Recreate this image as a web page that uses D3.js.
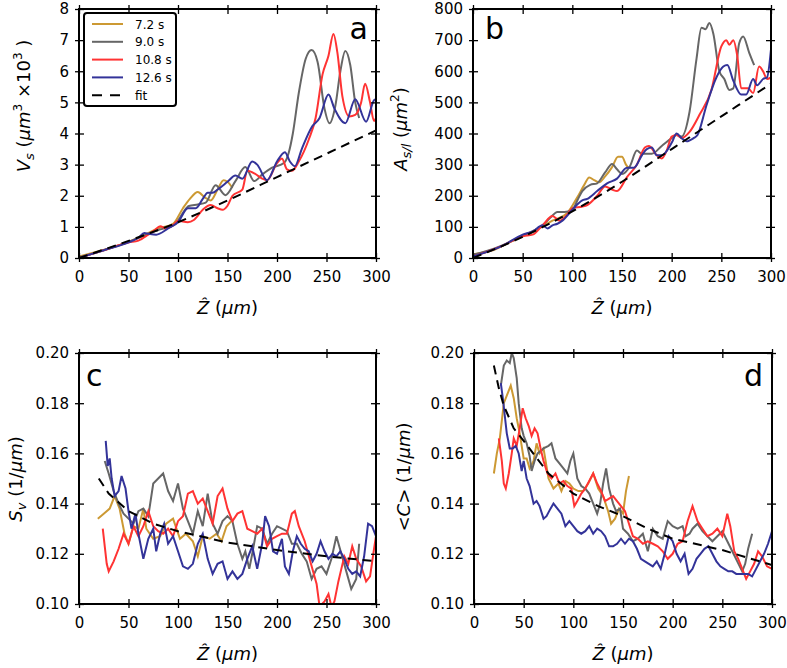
<!DOCTYPE html>
<html>
<head>
<meta charset="utf-8">
<script src="https://d3js.org/d3.v7.min.js"></script>
<style>
  body { margin: 0; background: #fff; }
  text { font-family: "DejaVu Sans", sans-serif; }
</style>
</head>
<body>
<svg id="fig" width="787" height="668"></svg>
<script>
// series styling + ticks
const seriesNames = ["7.2 s", "9.0 s", "10.8 s", "12.6 s", "fit"];
const seriesColors = ["#cc9933", "#666666", "#ff3333", "#333399", "#000000"];
const zTicks = [0, 50, 100, 150, 200, 250, 300];
const vTicks = [0, 1, 2, 3, 4, 5, 6, 7, 8];
const aTicks = [0, 100, 200, 300, 400, 500, 600, 700, 800];
const sTicks = [0.10, 0.12, 0.14, 0.16, 0.18, 0.20];

// panel a : V_s (x10^3 um^3) vs Z
const vs72 = [[0,0.05],[20,0.22],[40,0.4],[60,0.65],[80,0.95],[95,1.1],[105,1.6],[112,1.9],[120,2.12],[127,1.95],[133,1.85],[140,2.2],[146,2.5],[150,2.45],[155,2.25]];
const vs90 = [[0,0.02],[25,0.25],[50,0.52],[80,0.9],[95,1.05],[100,1.2],[105,1.45],[111,1.67],[120,1.72],[128,1.78],[138,2.34],[148,2.02],[158,2.47],[168,2.92],[177,2.47],[185,2.68],[195,2.9],[207,3.05],[212,3.4],[216,4.0],[222,5.3],[229,6.4],[235,6.68],[241,6.3],[248,4.8],[253,4.33],[259,4.9],[264,6.0],[269,6.65],[274,6.2],[279,5.0],[283,4.5]];
const vs108 = [[0,0.0],[25,0.25],[50,0.5],[60,0.56],[70,0.75],[76,0.88],[82,1.02],[88,0.95],[95,1.05],[100,1.2],[110,1.15],[116,1.22],[125,1.55],[133,1.7],[140,1.6],[145,1.55],[150,1.68],[155,2.0],[165,2.2],[170,2.8],[178,2.7],[185,2.55],[190,2.5],[200,3.05],[205,3.2],[210,2.85],[215,2.8],[222,3.1],[232,3.8],[239,4.5],[246,5.9],[252,6.5],[257,7.2],[261,6.6],[266,5.2],[273,4.55],[279,4.6],[285,5.0],[289,5.6],[294,5.0],[298,4.4],[300,4.5]];
const vs126 = [[0,0.0],[25,0.25],[50,0.5],[60,0.65],[66,0.8],[70,0.78],[78,0.75],[90,0.95],[100,1.15],[110,1.6],[118,1.6],[125,1.9],[130,2.1],[135,2.1],[140,2.2],[150,2.45],[158,2.65],[165,2.55],[175,3.1],[180,3.0],[190,2.5],[200,3.1],[208,3.4],[213,3.1],[218,2.95],[225,3.5],[235,4.2],[243,4.5],[252,5.25],[258,4.8],[269,4.33],[279,5.1],[290,4.38],[298,5.07],[300,5.1]];
const vsFit = [[0,0],[50,0.55],[100,1.15],[150,1.85],[200,2.6],[250,3.35],[300,4.1]];

// panel b : A_s/l (um^2) vs Z
const as72 = [[0,12],[20,25],[40,55],[60,85],[80,120],[95,145],[105,195],[112,235],[117,259],[122,250],[127,243],[133,262],[140,292],[146,325],[150,325],[154,300],[157,288]];
const as90 = [[0,10],[25,35],[50,72],[70,105],[78,130],[85,148],[92,148],[100,155],[105,185],[110,215],[118,235],[125,240],[133,275],[140,302],[145,285],[150,270],[158,295],[165,345],[170,335],[180,335],[190,360],[200,385],[205,395],[210,390],[218,470],[225,640],[230,740],[234,735],[238,755],[242,720],[248,600],[253,575],[258,540],[262,545],[268,690],[272,712],[278,660],[283,620]];
const as108 = [[0,5],[30,40],[50,70],[60,75],[70,105],[80,135],[87,120],[95,140],[100,160],[110,165],[115,170],[125,200],[133,230],[140,220],[145,215],[155,260],[165,300],[173,355],[177,360],[185,330],[190,320],[195,345],[200,390],[205,395],[210,385],[218,405],[228,460],[240,540],[250,680],[255,700],[258,685],[262,700],[266,650],[270,545],[277,545],[282,530],[288,615],[292,600],[296,575],[300,580]];
const as126 = [[0,5],[30,40],[50,75],[60,85],[70,105],[75,95],[80,105],[85,110],[90,120],[100,155],[110,185],[115,190],[125,215],[135,240],[145,255],[155,290],[162,290],[170,330],[175,350],[180,355],[185,330],[190,330],[200,370],[205,400],[210,385],[215,375],[222,385],[226,395],[235,490],[245,580],[252,615],[256,620],[262,570],[270,525],[275,525],[282,575],[286,555],[292,575],[296,580],[300,670]];
const asFit = [[0,0],[50,68],[100,150],[150,245],[200,350],[250,455],[300,560]];

// panel c : S_v (1/um) vs Z
const sv72 = [[19,0.134],[25,0.136],[31,0.138],[36,0.143],[41,0.138],[46,0.128],[50,0.124],[55,0.131],[60,0.130],[65,0.138],[68,0.130],[75,0.126],[82,0.127],[88,0.132],[95,0.134],[102,0.126],[108,0.128],[115,0.125],[120,0.119],[125,0.127],[132,0.126],[139,0.128],[144,0.125],[149,0.131],[154,0.133]];
const sv90 = [[26,0.157],[30,0.152],[35,0.145],[40,0.140],[45,0.136],[50,0.134],[55,0.132],[60,0.137],[65,0.138],[70,0.135],[75,0.148],[80,0.150],[85,0.152],[90,0.145],[95,0.141],[100,0.148],[105,0.138],[110,0.133],[115,0.128],[120,0.137],[125,0.131],[130,0.144],[135,0.132],[140,0.128],[145,0.133],[150,0.135],[155,0.133],[160,0.124],[165,0.118],[168,0.121],[172,0.114],[175,0.120],[180,0.131],[185,0.130],[190,0.124],[195,0.128],[200,0.131],[205,0.130],[210,0.129],[215,0.124],[220,0.124],[225,0.120],[230,0.117],[235,0.110],[240,0.114],[245,0.115],[250,0.112],[255,0.118],[260,0.127],[265,0.120],[270,0.113],[275,0.106],[280,0.110],[283,0.124]];
const sv108 = [[24,0.130],[28,0.116],[30,0.113],[35,0.117],[40,0.122],[45,0.128],[50,0.124],[55,0.131],[60,0.127],[65,0.131],[70,0.137],[75,0.131],[80,0.129],[85,0.128],[90,0.130],[95,0.127],[100,0.133],[105,0.135],[110,0.144],[115,0.145],[120,0.140],[125,0.142],[130,0.137],[135,0.132],[140,0.143],[145,0.146],[150,0.138],[155,0.133],[160,0.136],[165,0.137],[170,0.130],[175,0.129],[180,0.128],[185,0.130],[190,0.123],[195,0.126],[200,0.127],[205,0.128],[210,0.128],[215,0.136],[218,0.137],[222,0.131],[228,0.125],[235,0.115],[240,0.108],[243,0.099],[248,0.101],[252,0.104],[255,0.099],[258,0.101],[262,0.109],[265,0.114],[268,0.119],[272,0.116],[276,0.123],[280,0.118],[285,0.115],[290,0.109],[294,0.111],[298,0.122],[300,0.127]];
const sv126 = [[27,0.165],[29,0.155],[31,0.158],[33,0.150],[36,0.143],[40,0.145],[43,0.151],[47,0.146],[50,0.137],[53,0.130],[57,0.136],[60,0.128],[65,0.118],[70,0.126],[75,0.130],[78,0.121],[82,0.128],[86,0.132],[90,0.124],[95,0.127],[100,0.121],[105,0.115],[110,0.114],[115,0.116],[120,0.124],[125,0.128],[130,0.118],[135,0.112],[140,0.116],[145,0.117],[150,0.110],[155,0.113],[160,0.110],[165,0.112],[170,0.118],[175,0.123],[180,0.114],[185,0.124],[188,0.135],[192,0.131],[196,0.121],[200,0.120],[205,0.126],[208,0.115],[212,0.112],[216,0.121],[220,0.127],[224,0.124],[228,0.122],[232,0.121],[236,0.117],[240,0.120],[244,0.125],[248,0.121],[252,0.118],[256,0.120],[260,0.119],[264,0.121],[268,0.118],[272,0.114],[276,0.112],[280,0.113],[284,0.111],[288,0.119],[292,0.132],[296,0.131],[300,0.127]];
const svFit = [[20,0.150],[30,0.144],[50,0.137],[75,0.132],[100,0.129],[150,0.1245],[200,0.1215],[250,0.119],[300,0.117]];

// panel d : <C> (1/um) vs Z
const cm72 = [[20,0.152],[23,0.160],[26,0.166],[30,0.180],[33,0.183],[37,0.187],[40,0.182],[43,0.174],[46,0.168],[50,0.158],[53,0.158],[56,0.154],[60,0.157],[63,0.164],[66,0.160],[70,0.162],[75,0.150],[80,0.146],[85,0.148],[88,0.145],[92,0.149],[96,0.148],[100,0.146],[105,0.145],[110,0.145],[115,0.148],[120,0.152],[125,0.146],[130,0.143],[135,0.137],[138,0.132],[142,0.134],[146,0.138],[150,0.136],[153,0.145],[156,0.151]];
const cm90 = [[27,0.187],[30,0.195],[33,0.197],[36,0.196],[38,0.200],[40,0.198],[43,0.190],[45,0.180],[48,0.170],[50,0.167],[53,0.164],[56,0.159],[58,0.153],[61,0.157],[64,0.160],[67,0.161],[70,0.162],[75,0.163],[78,0.164],[82,0.158],[86,0.156],[90,0.154],[94,0.152],[97,0.157],[100,0.160],[104,0.150],[108,0.147],[112,0.146],[116,0.144],[120,0.140],[124,0.136],[127,0.140],[130,0.148],[133,0.154],[136,0.146],[140,0.140],[143,0.137],[147,0.138],[150,0.130],[155,0.128],[160,0.125],[165,0.126],[170,0.128],[175,0.121],[180,0.130],[185,0.127],[190,0.126],[195,0.133],[200,0.131],[205,0.130],[210,0.131],[213,0.127],[217,0.128],[220,0.130],[225,0.132],[230,0.129],[235,0.127],[240,0.125],[245,0.127],[250,0.129],[255,0.125],[260,0.121],[265,0.117],[270,0.113],[273,0.116],[276,0.122],[280,0.128]];
const cm108 = [[25,0.166],[28,0.157],[30,0.148],[32,0.146],[35,0.152],[38,0.160],[40,0.166],[43,0.163],[46,0.170],[49,0.178],[52,0.174],[55,0.171],[58,0.167],[61,0.170],[64,0.168],[67,0.162],[70,0.157],[74,0.152],[78,0.150],[82,0.152],[86,0.148],[90,0.149],[94,0.147],[98,0.146],[101,0.139],[104,0.141],[108,0.144],[112,0.146],[116,0.149],[120,0.152],[124,0.148],[128,0.145],[132,0.141],[136,0.142],[140,0.143],[144,0.141],[148,0.139],[152,0.137],[156,0.132],[160,0.127],[165,0.126],[170,0.124],[175,0.125],[180,0.124],[185,0.123],[190,0.121],[195,0.118],[200,0.120],[205,0.124],[210,0.125],[215,0.133],[220,0.139],[225,0.133],[230,0.130],[235,0.127],[240,0.128],[245,0.130],[250,0.127],[255,0.136],[258,0.131],[262,0.121],[266,0.118],[270,0.114],[274,0.110],[278,0.113],[282,0.116],[286,0.121],[290,0.119],[295,0.115],[300,0.114]];
const cm126 = [[27,0.188],[29,0.182],[31,0.175],[33,0.168],[36,0.162],[39,0.162],[42,0.163],[45,0.160],[48,0.153],[50,0.157],[53,0.150],[56,0.147],[60,0.140],[63,0.141],[66,0.139],[70,0.134],[73,0.135],[77,0.138],[80,0.140],[84,0.138],[88,0.136],[92,0.131],[96,0.133],[100,0.131],[104,0.129],[108,0.128],[112,0.129],[116,0.131],[120,0.128],[124,0.130],[128,0.129],[132,0.127],[136,0.123],[140,0.123],[144,0.124],[148,0.126],[152,0.124],[156,0.126],[160,0.125],[164,0.122],[168,0.118],[172,0.117],[176,0.116],[180,0.115],[184,0.117],[188,0.114],[192,0.120],[196,0.127],[200,0.125],[204,0.120],[208,0.117],[212,0.120],[216,0.112],[220,0.114],[224,0.118],[228,0.120],[232,0.122],[236,0.123],[240,0.120],[244,0.117],[248,0.115],[252,0.114],[256,0.113],[260,0.113],[264,0.112],[268,0.112],[272,0.112],[276,0.112],[280,0.111],[284,0.114],[288,0.117],[292,0.120],[296,0.124],[300,0.129]];
const cmFit = [[20,0.195],[25,0.186],[30,0.179],[40,0.170],[50,0.165],[75,0.152],[100,0.144],[125,0.139],[150,0.135],[175,0.130],[200,0.126],[250,0.1215],[300,0.1155]];

const svg = d3.select("#fig");

const panels = [
  { id: "a", box: [79, 9, 376, 258], yDomain: [0, 8], yTicks: vTicks, fmt: d3.format("d"),
    series: [vs72, vs90, vs108, vs126, vsFit], curve: d3.curveMonotoneX,
    tag: { x: 368, y: 39, anchor: "end" }, legend: true },
  { id: "b", box: [473, 9, 771, 258], yDomain: [0, 800], yTicks: aTicks, fmt: d3.format("d"),
    series: [as72, as90, as108, as126, asFit], curve: d3.curveMonotoneX,
    tag: { x: 485, y: 39, anchor: "start" } },
  { id: "c", box: [79, 353, 376, 604], yDomain: [0.10, 0.20], yTicks: sTicks, fmt: d3.format(".2f"),
    series: [sv72, sv90, sv108, sv126, svFit], curve: d3.curveLinear,
    tag: { x: 86, y: 386, anchor: "start" } },
  { id: "d", box: [474, 353, 772, 604], yDomain: [0.10, 0.20], yTicks: sTicks, fmt: d3.format(".2f"),
    series: [cm72, cm90, cm108, cm126, cmFit], curve: d3.curveLinear,
    tag: { x: 763, y: 386, anchor: "end" } }
];

panels.forEach(function(p) {
  const [x0, y0, x1, y1] = p.box;
  const w = x1 - x0, h = y1 - y0;
  const g = svg.append("g").attr("transform", "translate(" + x0 + "," + y0 + ")");

  const x = d3.scaleLinear().domain([0, 300]).range([0, w]);
  const y = d3.scaleLinear().domain(p.yDomain).range([h, 0]);

  g.append("clipPath").attr("id", "clip-" + p.id)
    .append("rect").attr("width", w).attr("height", h);

  const line = d3.line()
    .x(function(d) { return x(d[0]); })
    .y(function(d) { return y(d[1]); })
    .curve(p.curve);

  const plot = g.append("g").attr("clip-path", "url(#clip-" + p.id + ")");
  p.series.forEach(function(s, i) {
    plot.append("path")
      .datum(s)
      .attr("d", line)
      .attr("fill", "none")
      .attr("stroke", seriesColors[i])
      .attr("stroke-width", 2)
      .attr("stroke-dasharray", i == 4 ? "9,6" : null);
  });

  // ticks cross the frame (in and out) on all four sides
  const bottom = g.append("g").attr("transform", "translate(0," + h + ")")
    .call(d3.axisBottom(x).tickValues(zTicks).tickSize(-5).tickPadding(13));
  bottom.selectAll(".tick line").attr("y1", 4).attr("y2", -5);
  const left = g.append("g")
    .call(d3.axisLeft(y).tickValues(p.yTicks).tickFormat(p.fmt).tickSize(-5).tickPadding(10));
  left.selectAll(".tick line").attr("x1", -4).attr("x2", 5);
  const top = g.append("g").call(d3.axisTop(x).tickValues(zTicks).tickSize(-5).tickFormat(""));
  top.selectAll(".tick line").attr("y1", -4).attr("y2", 5);
  const right = g.append("g").attr("transform", "translate(" + w + ",0)")
    .call(d3.axisRight(y).tickValues(p.yTicks).tickSize(-5).tickFormat(""));
  right.selectAll(".tick line").attr("x1", 4).attr("x2", -5);

  g.selectAll(".domain").remove();
  g.selectAll(".tick line").attr("stroke", "#000").attr("stroke-width", 1.3);
  g.selectAll(".tick text").attr("font-size", 15).attr("font-family", "DejaVu Sans").attr("fill", "#000");

  g.append("rect").attr("width", w).attr("height", h)
    .attr("fill", "none").attr("stroke", "#000").attr("stroke-width", 2);

  svg.append("text")
    .attr("x", p.tag.x).attr("y", p.tag.y)
    .attr("text-anchor", p.tag.anchor)
    .attr("font-size", 30)
    .text(p.id);

  // x label
  const xl = svg.append("text")
    .attr("x", x0 + w / 2).attr("y", y1 + 56)
    .attr("text-anchor", "middle")
    .attr("font-family", "DejaVu Serif").attr("font-size", 18);
  xl.append("tspan").attr("font-style", "italic").text("Ẑ");
  xl.append("tspan").text(" (");
  xl.append("tspan").attr("font-style", "italic").text("μm");
  xl.append("tspan").text(")");

  if (p.legend) {
    const lg = g.append("g").attr("transform", "translate(5,4)");
    lg.append("rect").attr("width", 92).attr("height", 93).attr("rx", 3)
      .attr("fill", "#fff").attr("stroke", "#000").attr("stroke-width", 2);
    seriesNames.forEach(function(n, i) {
      const yy = 11 + i * 17.8;
      lg.append("line").attr("x1", 8).attr("x2", 39).attr("y1", yy).attr("y2", yy)
        .attr("stroke", seriesColors[i]).attr("stroke-width", 2)
        .attr("stroke-dasharray", i == 4 ? "10,8" : null);
      lg.append("text").attr("x", 51).attr("y", yy + 4.5).attr("font-size", 12).text(n);
    });
  }
});

// y labels (rotated)
function yLabel(cx, cy, parts) {
  const t = svg.append("text")
    .attr("transform", "translate(" + cx + "," + cy + ") rotate(-90)")
    .attr("text-anchor", "middle")
    .attr("font-family", "DejaVu Serif").attr("font-size", 18);
  parts.forEach(function(pt) {
    const ts = t.append("tspan").text(pt.t);
    if (pt.i) ts.attr("font-style", "italic");
    if (pt.dy) ts.attr("dy", pt.dy);
    if (pt.s) ts.attr("font-size", pt.s);
  });
}
yLabel(30, 106, [{t: "V", i: 1}, {t: "s", i: 1, s: 13, dy: 4}, {t: " (", dy: -4}, {t: "μm", i: 1},
  {t: "3", s: 12, dy: -8}, {t: " ×10", dy: 8}, {t: "3", s: 12, dy: -8}, {t: " )", dy: 8}]);
yLabel(407, 129, [{t: "A", i: 1}, {t: "s/l", i: 1, s: 13, dy: 4}, {t: " (", dy: -4}, {t: "μm", i: 1},
  {t: "2", s: 12, dy: -8}, {t: ")", dy: 8}]);
yLabel(22, 479, [{t: "S", i: 1}, {t: "v", i: 1, s: 13, dy: 4}, {t: " (1/", dy: -4}, {t: "μm", i: 1}, {t: ")"}]);
yLabel(410, 477, [{t: "<"}, {t: "C", i: 1}, {t: "> (1/"}, {t: "μm", i: 1}, {t: ")"}]);
</script>
</body>
</html>
